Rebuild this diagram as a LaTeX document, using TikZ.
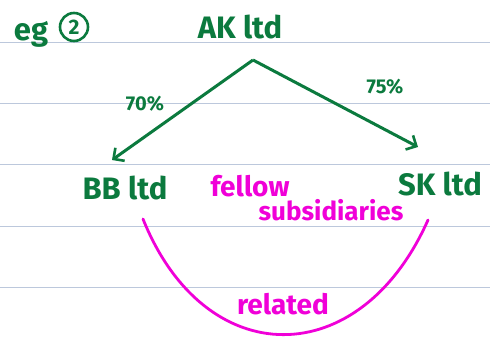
\documentclass[tikz,border=0pt]{standalone}
\usepackage{fontspec}
\setmainfont{Fira Sans}
\usetikzlibrary{arrows.meta}
\definecolor{pen}{HTML}{0B7A3E}
\definecolor{hot}{HTML}{F000D8}
\definecolor{rule}{HTML}{BCC8DC}
\tikzset{
  gtxt/.style={text=pen, font=\bfseries\fontsize{31}{34}\selectfont, inner sep=0pt},
  mtxt/.style={text=hot, font=\bfseries\fontsize{28}{30}\selectfont, inner sep=0pt},
  ptxt/.style={text=pen, font=\bfseries\fontsize{20}{22}\selectfont, inner sep=0pt},
  link/.style={draw=pen, line width=3pt, -{Straight Barb[length=8pt,width=16pt,line width=2.6pt]}},
  arc/.style={draw=hot, line width=2.8pt},
  ruled/.style={draw=rule, line width=1pt}
}
\begin{document}
\begin{tikzpicture}[x=1pt,y=-1pt]
\useasboundingbox (0,0) rectangle (490,337);
\fill[white] (0,0) rectangle (490,337);
\foreach \yy in {42.5,103.5,164.5,226,287}
  \draw[ruled] (0,\yy) -- (490,\yy);
% title
\node[gtxt] (eg) at (31,34) {eg};
\node[draw=pen, circle, line width=2.6pt, minimum size=28pt, inner sep=0pt, text=pen, font=\bfseries\fontsize{21}{22}\selectfont] (two) at (74,27) {2};
% nodes
\node[gtxt] (AK) at (240,27) {AK ltd};
\node[gtxt] (BB) at (125,188) {BB ltd};
\node[gtxt] (SK) at (440,184) {SK ltd};
\coordinate (apex) at (253,60);
\coordinate (bbtip) at (112,160);
\coordinate (sktip) at (418,147);
\draw[link, line join=round] (apex) -- (bbtip);
\draw[link] (apex) -- (sktip);
\node[ptxt] (p70) at (145,104) {70\%};
\node[ptxt] (p75) at (385,87) {75\%};
% magenta
\node[mtxt] (fellow) at (250,186) {fellow};
\node[mtxt, font=\bfseries\fontsize{26}{28}\selectfont] (subs) at (331,210) {subsidiaries};
\coordinate (arcL) at (143,219);
\coordinate (arcR) at (428,220);
\draw[arc, line cap=round] (arcL) .. controls (205,373) and (360,373) .. (arcR);
\node[mtxt] (rel) at (283,304) {related};
\end{tikzpicture}
\end{document}
